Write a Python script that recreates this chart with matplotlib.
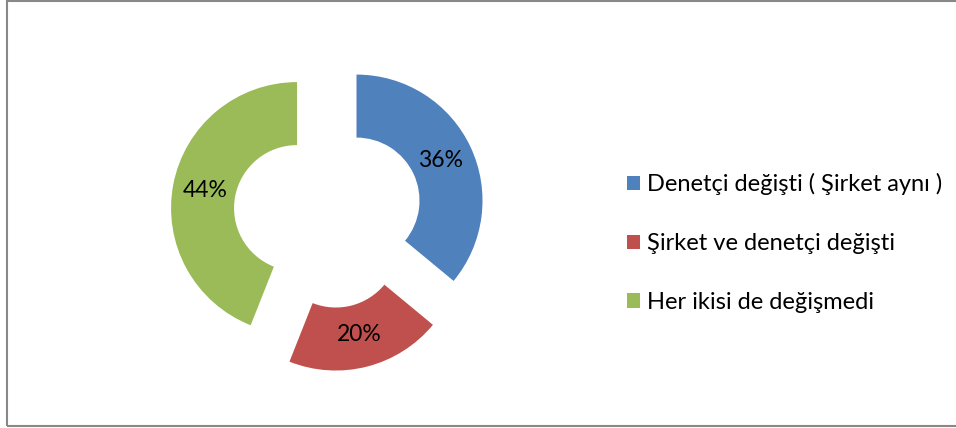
import matplotlib.pyplot as plt
from matplotlib.patches import Rectangle

labels = ['Denetçi değişti ( Şirket aynı )', 'Şirket ve denetçi değişti', 'Her ikisi de değişmedi']
values = [36, 20, 44]
colors = ['#4F81BD', '#C0504D', '#9BBB59']

plt.rcParams['font.family'] = ['Lato', 'DejaVu Sans']

fig = plt.figure(figsize=(9.56, 4.28), dpi=100)
ax = fig.add_axes([0, 0, 1, 1])

R = 126
wedges, texts, autotexts = ax.pie(
    values, colors=colors, startangle=90, counterclock=False,
    center=(328, 214), radius=R, explode=[0.25 * R] * 3,
    wedgeprops=dict(width=R * 0.5, linewidth=0),
    autopct='%1.0f%%', pctdistance=0.74,
    textprops=dict(fontsize=16.5, color='black'), frame=True)
ax.set_xlim(0, 956)
ax.set_ylim(0, 428)
ax.set_aspect('equal')
ax.axis('off')

leg = ax.legend(wedges, labels, loc='center left', bbox_to_anchor=(615 / 956, 1 - 243 / 428),
                frameon=False, fontsize=17, handlelength=0.55, handleheight=0.55,
                handletextpad=0.3, labelspacing=1.6, borderpad=0)

fig.add_artist(Rectangle((7 / 956, 2 / 428), 1.0, 425 / 428, transform=fig.transFigure,
                         fill=False, edgecolor='#888888', linewidth=1.5))

fig.savefig('out.png', dpi=100)
